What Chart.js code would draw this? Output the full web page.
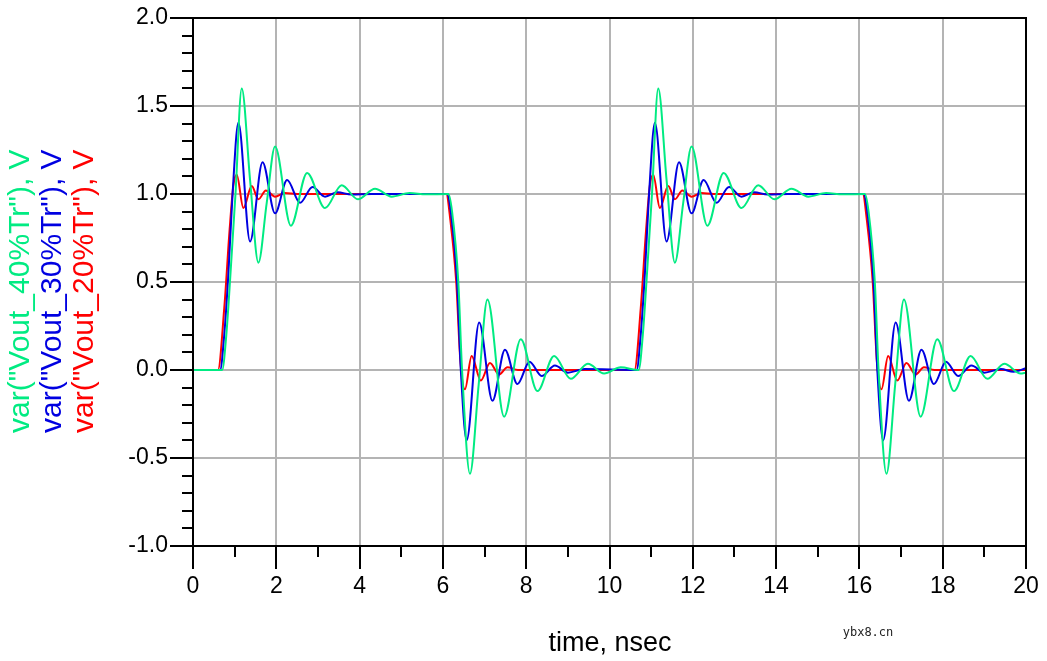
<!DOCTYPE html>
<html><head><meta charset="utf-8">
<script src="https://cdn.jsdelivr.net/npm/chart.js@4"></script>
<style>html,body{margin:0;padding:0;background:#fff}#c{display:block}</style>
</head><body>
<div style="width:1047px;height:661px"><canvas id="c" width="1047" height="661"></canvas></div>
<script>
const seriesNames = ['var("Vout_40%Tr"), V','var("Vout_30%Tr"), V','var("Vout_20%Tr"), V'];
const xTicks = [0,2,4,6,8,10,12,14,16,18,20];
const yTicks = [-1.0,-0.5,0.0,0.5,1.0,1.5,2.0];
const green40 = [[0,0],[0.7,0],[0.8,0.2],[0.89,0.51],[1.02,1.0],[1.17,1.6],[1.37,1.08],[1.57,0.61],[1.77,0.95],[1.97,1.27],[2.35,0.82],[2.74,1.12],[3.17,0.92],[3.57,1.05],[3.96,0.97],[4.37,1.03],[4.77,0.985],[5.2,1.005],[5.6,0.998],[6.13,1.0],[6.22,0.9],[6.37,0.5],[6.46,0.0],[6.65,-0.59],[6.86,-0.08],[7.07,0.40],[7.47,-0.265],[7.87,0.175],[8.27,-0.12],[8.67,0.08],[9.07,-0.05],[9.48,0.035],[9.87,-0.02],[10.27,0.015],[10.7,0],
[10.8,0.2],[10.89,0.51],[11.02,1.0],[11.17,1.6],[11.37,1.08],[11.57,0.61],[11.77,0.95],[11.97,1.27],[12.35,0.82],[12.74,1.12],[13.17,0.92],[13.57,1.05],[13.96,0.97],[14.37,1.03],[14.77,0.985],[15.2,1.005],[15.6,0.998],[16.13,1.0],[16.22,0.9],[16.37,0.5],[16.46,0.0],[16.65,-0.59],[16.86,-0.08],[17.07,0.40],[17.47,-0.265],[17.87,0.175],[18.27,-0.12],[18.67,0.08],[19.07,-0.05],[19.48,0.035],[19.87,-0.02],[20,-0.015]];
const blue30 = [[0,0],[0.65,0],[0.75,0.2],[0.85,0.55],[0.95,1.0],[1.09,1.405],[1.37,0.73],[1.67,1.18],[1.97,0.89],[2.26,1.08],[2.57,0.95],[2.87,1.04],[3.17,0.985],[3.47,1.01],[3.8,0.997],[4.3,1.0],[6.1,1.0],[6.2,0.88],[6.34,0.5],[6.43,0.0],[6.57,-0.40],[6.87,0.27],[7.19,-0.175],[7.49,0.115],[7.79,-0.08],[8.08,0.047],[8.37,-0.034],[8.69,0.025],[9.0,-0.015],[9.4,0.005],[10.65,0],
[10.75,0.2],[10.85,0.55],[10.95,1.0],[11.09,1.405],[11.37,0.73],[11.67,1.18],[11.97,0.89],[12.26,1.08],[12.57,0.95],[12.87,1.04],[13.17,0.985],[13.47,1.01],[13.8,0.997],[14.3,1.0],[16.1,1.0],[16.2,0.88],[16.34,0.5],[16.43,0.0],[16.57,-0.40],[16.87,0.27],[17.19,-0.175],[17.49,0.115],[17.79,-0.08],[18.08,0.047],[18.37,-0.034],[18.69,0.025],[19.0,-0.015],[19.4,0.005],[19.7,-0.01],[20,0.01]];
const red20 = [[0,0],[0.6,0],[0.75,0.35],[0.88,0.8],[0.97,1.05],[1.05,1.11],[1.21,0.92],[1.41,1.045],[1.57,0.97],[1.75,1.02],[1.97,0.985],[2.2,1.005],[2.5,1.0],[6.08,1.0],[6.18,0.85],[6.32,0.5],[6.42,0.05],[6.53,-0.11],[6.69,0.08],[6.91,-0.06],[7.13,0.04],[7.35,-0.025],[7.55,0.015],[7.8,0],[10.6,0],
[10.75,0.35],[10.88,0.8],[10.97,1.05],[11.05,1.11],[11.21,0.92],[11.41,1.045],[11.57,0.97],[11.75,1.02],[11.97,0.985],[12.2,1.005],[12.5,1.0],[16.08,1.0],[16.18,0.85],[16.32,0.5],[16.42,0.05],[16.53,-0.11],[16.69,0.08],[16.91,-0.06],[17.13,0.04],[17.35,-0.025],[17.55,0.015],[17.8,0],[20,0]];
const colors = ['rgb(0,235,130)','rgb(0,0,225)','rgb(255,0,0)'];
const FONT = '"Liberation Sans", Arial, sans-serif';

const ds = (d,c,o)=>({data:d.map(p=>({x:p[0],y:p[1]})),borderColor:c,borderWidth:2,pointRadius:0,showLine:true,cubicInterpolationMode:'monotone',order:o,fill:false});

const deco = {
  id:'deco',
  afterDraw(ch){
    const c=ch.ctx, a=ch.chartArea, xs=ch.scales.x, ys=ch.scales.y;
    c.save();
    c.strokeStyle='#000'; c.lineWidth=2;
    c.strokeRect(a.left,a.top,a.right-a.left,a.bottom-a.top);
    c.beginPath();
    for(let v=0;v<=20;v+=2){const x=Math.round(xs.getPixelForValue(v));c.moveTo(x,a.bottom);c.lineTo(x,a.bottom+23);}
    for(let v=1;v<20;v+=2){const x=Math.round(xs.getPixelForValue(v));c.moveTo(x,a.bottom);c.lineTo(x,a.bottom+11);}
    for(let i=-10;i<=20;i++){if(i%5===0)continue;const y=Math.round(ys.getPixelForValue(i/10));c.moveTo(a.left,y);c.lineTo(a.left-11,y);}
    c.stroke();
    c.font='30px '+FONT; c.textBaseline='alphabetic'; c.textAlign='left';
    const bx=[29,61,93];
    for(let i=0;i<3;i++){c.save();c.translate(bx[i],433);c.rotate(-Math.PI/2);c.fillStyle=colors[i];c.fillText(seriesNames[i],0,0);c.restore();}
    c.fillStyle='#000'; c.textAlign='center'; c.font='27px '+FONT;
    c.fillText('time, nsec',610,651);
    c.font='12px "DejaVu Sans Mono", monospace'; c.fillStyle='#222';
    c.fillText('ybx8.cn',868,636);
    c.restore();
  }
};

new Chart(document.getElementById('c'),{
  type:'scatter',
  data:{datasets:[ds(green40,colors[0],1),ds(blue30,colors[1],2),ds(red20,colors[2],3)]},
  options:{
    responsive:false,animation:false,
    layout:{padding:{left:0,top:18,right:21,bottom:0}},
    plugins:{legend:{display:false},tooltip:{enabled:false}},
    scales:{
      x:{type:'linear',min:0,max:20,
        afterBuildTicks:s=>{s.ticks=xTicks.map(v=>({value:v}));},
        afterFit:s=>{s.height=115;},
        grid:{color:'#b4b4b4',lineWidth:2,tickLength:23,tickColor:'#000'},
        border:{color:'#000',width:2},
        ticks:{color:'#000',font:{family:FONT,size:23},padding:4,callback:v=>String(v)}},
      y:{type:'linear',min:-1,max:2,
        afterBuildTicks:s=>{s.ticks=yTicks.map(v=>({value:v}));},
        afterFit:s=>{s.width=193;},
        grid:{color:'#b4b4b4',lineWidth:2,tickLength:23,tickColor:'#000'},
        border:{color:'#000',width:2},
        ticks:{color:'#000',font:{family:FONT,size:23},padding:2,callback:v=>v.toFixed(1)}}
    }
  },
  plugins:[deco]
});
</script></body></html>
